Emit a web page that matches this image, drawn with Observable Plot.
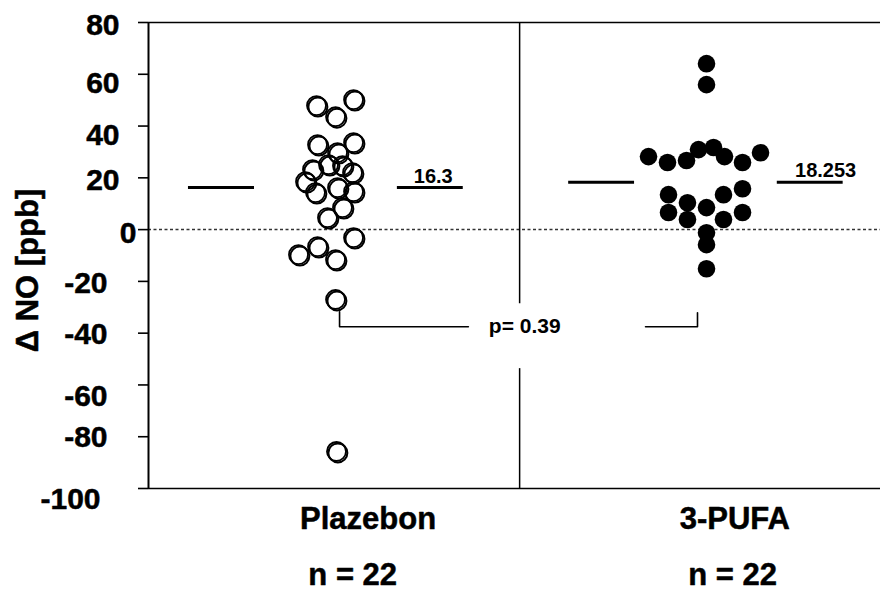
<!DOCTYPE html>
<html>
<head>
<meta charset="utf-8">
<script src="https://cdn.jsdelivr.net/npm/d3@7"></script>
<script src="https://cdn.jsdelivr.net/npm/@observablehq/plot@0.6"></script>
<style>
  html, body { margin: 0; padding: 0; background: #fff; }
  #chart svg { display: block; }
</style>
</head>
<body>
<div id="chart"></div>
<script>
// ---------- data ----------
const groups = ["Plazebon", "3-PUFA"];
const counts = [22, 22];
const placeboValues = [47.9, 43.6, 50.2, 32.8, 29.7, 33.6, 25.1, 24.7, 23.2, 22.0, 18.5,
                       14.3, 16.2, 14.7, 8.5, 4.6, -3.1, -6.6, -9.7, -11.6, -27.0, -85.7];
const placeboJitter = [2.295, 2.555, 2.801, 2.309, 2.582, 2.801, 2.459, 2.650, 2.240, 2.787, 2.145,
                       2.281, 2.582, 2.801, 2.650, 2.445, 2.801, 2.309, 2.049, 2.555, 2.555, 2.568];
const pufaValues = [64.1, 56.0, 28.2, 25.9, 26.7, 30.9, 31.7, 28.2, 25.9, 29.7, 13.5,
                    6.6, 10.4, 3.9, 8.5, 13.5, 3.9, 15.8, 6.6, -1.2, -5.8, -15.1];
const pufaJitter = [7.623, 7.623, 6.831, 7.090, 7.350, 7.514, 7.719, 7.869, 8.115, 8.361, 7.104,
                    7.104, 7.363, 7.363, 7.623, 7.855, 7.855, 8.115, 8.115, 7.623, 7.623, 7.623];
const means = [16.3, 18.253];
const meanLabels = ["16.3", "18.253"];
const pLabel = "p= 0.39";
const yTicks = [80, 60, 40, 20, 0, -20, -40, -60, -80, -100];
const yTitle = "\u0394 NO [ppb]";

// ---------- layout (positions in x-scale units, styles) ----------
const groupX = [3.0, 8.01];
const nX = [2.79, 7.98];
const meanSegs = [[[0.546, 1.448], [3.40, 4.30]], [[5.74, 6.64], [8.59, 9.49]]];
const meanLabelX = [3.89, 9.25];
const meanLabelDy = [-11, -12];
const dividerX = 5.07;
const dividerGap = [-28.6, -53.7];
const bracketLeft = {x: [2.61, 4.37], top: -31.7};
const bracketRight = {x: [6.79, 7.50], top: -32.1};
const bracketY = -37.5;
const pX = 5.14;
const tickStyle = {
  "80": [19, 3], "60": [19, 9], "40": [19, 9], "20": [19, 3], "0": [2, 4],
  "-20": [31, 2], "-40": [31, 1], "-60": [31, 11], "-80": [31, 1], "-100": [38, 11]
};
const font = "'Liberation Sans', Arial, Helvetica, sans-serif";
const heavy = {fontWeight: "bold", fill: "black", stroke: "black", strokeWidth: 0.5};

// ---------- tables built from the arrays ----------
const placebo = placeboValues.map((v, i) => ({x: placeboJitter[i], y: v}));
const pufa = pufaValues.map((v, i) => ({x: pufaJitter[i], y: v}));
const meanRows = [];
means.forEach((m, g) => meanSegs[g].forEach(([a, b]) => meanRows.push({x1: a, x2: b, y: m})));
const meanText = means.map((m, g) => ({x: meanLabelX[g], y: m, label: meanLabels[g]}));
const bracket = [
  {x: bracketLeft.x[0], y: bracketLeft.top, s: "L"},
  {x: bracketLeft.x[0], y: bracketY, s: "L"},
  {x: bracketLeft.x[1], y: bracketY, s: "L"},
  {x: bracketRight.x[0], y: bracketY, s: "R"},
  {x: bracketRight.x[1], y: bracketY, s: "R"},
  {x: bracketRight.x[1], y: bracketRight.top, s: "R"}
];
const dividerRows = [{y1: yTicks[0], y2: dividerGap[0]}, {y1: dividerGap[1], y2: yTicks[yTicks.length - 1]}];

const tickGroups = Object.values(
  yTicks.reduce((acc, t) => {
    const [pad, dy] = tickStyle[String(t)];
    const k = pad + "_" + dy;
    (acc[k] = acc[k] || {pad, dy, ticks: []}).ticks.push(t);
    return acc;
  }, {})
);
const tickTextMarks = tickGroups.map(g => Plot.text(g.ticks, {
  y: d => d, text: d => String(d), frameAnchor: "left", textAnchor: "end",
  dx: -(10 + g.pad), dy: g.dy, fontSize: 30, ...heavy
}));

const chart = Plot.plot({
  width: 880,
  height: 597,
  marginLeft: 148,
  marginRight: 0,
  marginTop: 22,
  marginBottom: 109,
  style: {fontFamily: font, fontWeight: "bold", color: "black", background: "white", overflow: "visible"},
  x: {type: "linear", domain: [0, 10], axis: null},
  y: {type: "linear", domain: [-100, 80], axis: null},
  marks: [
    // frame
    Plot.ruleY([yTicks[0]], {stroke: "black", strokeWidth: 1.6}),
    Plot.ruleY([yTicks[yTicks.length - 1]], {stroke: "black", strokeWidth: 1.6}),
    Plot.ruleY([0], {stroke: "#333", strokeWidth: 1.5, strokeDasharray: "3,2.5"}),
    Plot.ruleX(dividerRows, {x: dividerX, y1: "y1", y2: "y2", stroke: "black", strokeWidth: 1.5}),
    Plot.ruleX([0], {y1: yTicks[yTicks.length - 1], y2: yTicks[0], stroke: "black", strokeWidth: 2}),
    Plot.axisY(yTicks, {tickSize: 10, tickFormat: () => "", stroke: "black", strokeWidth: 1.6, label: null}),
    ...tickTextMarks,
    // axis title
    Plot.text([yTitle], {text: d => d, frameAnchor: "left", textAnchor: "middle", dx: -120, dy: 15, rotate: -90,
      fontSize: 31, ...heavy}),
    // category labels
    Plot.text(groups, {x: (d, i) => groupX[i], text: d => d, frameAnchor: "bottom", dy: 40,
      fontSize: 31, ...heavy}),
    Plot.text(counts, {x: (d, i) => nX[i], text: d => `n = ${d}`, frameAnchor: "bottom", dy: 96,
      fontSize: 31, ...heavy}),
    // mean lines and labels
    Plot.ruleY(meanRows, {x1: "x1", x2: "x2", y: "y", stroke: "black", strokeWidth: 3}),
    Plot.text(meanText.slice(0, 1), {x: "x", y: "y", text: "label", dy: meanLabelDy[0], fontSize: 20, fontWeight: "bold", fill: "black"}),
    Plot.text(meanText.slice(1), {x: "x", y: "y", text: "label", dy: meanLabelDy[1], fontSize: 20, fontWeight: "bold", fill: "black"}),
    // p-value bracket
    Plot.line(bracket, {x: "x", y: "y", z: "s", stroke: "black", strokeWidth: 1.6}),
    Plot.text([pLabel], {x: pX, y: bracketY, text: d => d, fontSize: 21, fontWeight: "bold", fill: "black"}),
    // points
    Plot.dot(placebo, {x: "x", y: "y", r: 9.5, stroke: "black", strokeWidth: 2, fill: "none", dx: 1.4, dy: 1.4}),
    Plot.dot(placebo, {x: "x", y: "y", r: 9.5, stroke: "black", strokeWidth: 1.8, fill: "none"}),
    Plot.dot(pufa, {x: "x", y: "y", r: 8.8, fill: "black", stroke: "none"})
  ]
});
document.getElementById("chart").appendChild(chart);
</script>
</body>
</html>
